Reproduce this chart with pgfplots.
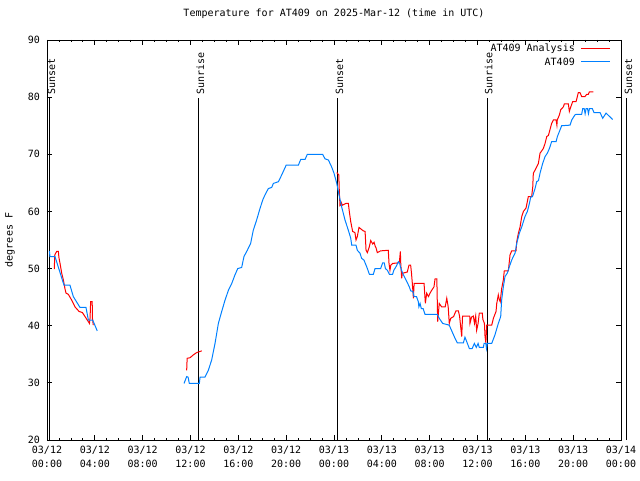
\documentclass[border=0pt]{standalone}
\usepackage{fontspec}
\setmainfont{DejaVu Sans Mono}
\usepackage{pgfplots}
\pgfplotsset{compat=1.18}
\definecolor{webblue}{RGB}{0,128,255}
\definecolor{pured}{RGB}{255,0,0}
\begin{document}
\begin{tikzpicture}
\useasboundingbox (-47pt,-40pt) rectangle (593pt,440pt);
\begin{axis}[
  at={(0,0)}, anchor=south west,
  scale only axis, width=574pt, height=400pt,
  xmin=0, xmax=48, ymin=20, ymax=90,
  clip=false,
  font=\fontsize{10}{14}\selectfont,
  /pgf/number format/assume math mode=true,
  axis line style={line width=0.9pt},
  every tick/.style={black, line width=0.8pt},
  tick align=inside,
  major tick length=5pt, minor tick length=2.5pt,
  xtick={0,4,...,48}, minor x tick num=3,
  ytick={20,30,...,90},
  xticklabels={03/12\\00:00,03/12\\04:00,03/12\\08:00,03/12\\12:00,03/12\\16:00,03/12\\20:00,03/13\\00:00,03/13\\04:00,03/13\\08:00,03/13\\12:00,03/13\\16:00,03/13\\20:00,03/14\\00:00},
  xticklabel style={align=center, anchor=north, inner sep=0pt, yshift=-6pt, font=\fontsize{10}{14}\selectfont},
  yticklabel style={anchor=east, inner sep=0pt, xshift=-7pt},
  title={Temperature for AT409 on 2025-Mar-12 (time in UTC)},
  title style={at={(axis description cs:0.5,1)}, anchor=base, yshift=17pt, inner sep=0pt},
  ylabel={degrees F},
  ylabel style={at={(axis description cs:-0.0645,0.5)}, anchor=center, inner sep=0pt},
]
% legend (key)
\draw[pured, line width=1pt] ([xshift=-40pt,yshift=-9pt]rel axis cs:1,1) -- ([xshift=-11pt,yshift=-9pt]rel axis cs:1,1);
\node[anchor=east, inner sep=0pt] at ([xshift=-46pt,yshift=-9pt]rel axis cs:1,1) {AT409 Analysis};
\draw[webblue, line width=1pt] ([xshift=-40pt,yshift=-22pt]rel axis cs:1,1) -- ([xshift=-11pt,yshift=-22pt]rel axis cs:1,1);
\node[anchor=east, inner sep=0pt] at ([xshift=-46pt,yshift=-22pt]rel axis cs:1,1) {AT409};

% sunrise / sunset lines
\addplot[black, line width=1pt] coordinates {(0.25,20) (0.25,79.8)};
\addplot[black, line width=1pt] coordinates {(12.71,20) (12.71,79.8)};
\addplot[black, line width=1pt] coordinates {(24.33,20) (24.33,79.8)};
\addplot[black, line width=1pt] coordinates {(36.8,20) (36.8,79.8)};
\addplot[black, line width=1pt] coordinates {(48.5,20) (48.5,79.8)};
\node[rotate=90, anchor=west, inner sep=1pt] at ([xshift=1.5pt]axis cs:0.25,80.3) {Sunset};
\node[rotate=90, anchor=west, inner sep=1pt] at ([xshift=1.5pt]axis cs:12.71,80.3) {Sunrise};
\node[rotate=90, anchor=west, inner sep=1pt] at ([xshift=1.5pt]axis cs:24.33,80.3) {Sunset};
\node[rotate=90, anchor=west, inner sep=1pt] at ([xshift=1.5pt]axis cs:36.8,80.3) {Sunrise};
\node[rotate=90, anchor=west, inner sep=1pt] at ([xshift=1.5pt]axis cs:48.5,80.3) {Sunset};

% AT409 Analysis (red)
\addplot[pured, line width=1pt] coordinates {
(0.61,49.9)(0.65,52.4)(0.81,53.0)(0.95,53.0)(1.0,51.9)(1.09,50.9)(1.23,49.2)(1.37,48.0)(1.5,46.5)(1.59,45.7)(1.78,45.5)(2.06,44.5)(2.34,43.3)(2.68,42.5)(2.96,42.3)(3.18,41.6)(3.55,40.4)(3.6,41.3)(3.65,44.2)(3.78,44.2)(3.8,41.3)(3.87,40.1)
};
\addplot[pured, line width=1pt] coordinates {
(11.68,32.2)(11.72,34.3)(11.96,34.4)(12.24,34.9)(12.52,35.3)(12.94,35.6)
};
\addplot[pured, line width=1pt] coordinates {
(24.23,66.8)(24.4,66.4)(24.45,63.2)(24.5,61.0)(24.55,61.1)(24.6,61.6)(24.7,61.1)(25.0,61.4)(25.2,61.4)(25.28,60.0)(25.4,58.2)(25.56,56.5)(25.75,56.3)(25.84,55.0)(25.95,55.6)(26.09,57.2)(26.45,56.6)(26.6,56.5)(26.68,53.2)(26.79,52.8)(26.95,53.8)(27.07,54.9)(27.24,54.3)(27.35,54.6)(27.45,53.9)(27.52,53.6)(27.62,52.8)(27.9,53.1)(28.54,53.2)(28.6,50.9)(28.68,49.7)(28.75,50.6)(28.91,50.9)(29.38,51.0)(29.47,51.2)(29.55,53.0)(29.58,51.0)(29.66,48.3)(29.72,49.3)(29.78,49.2)(30.13,49.4)(30.27,50.6)(30.41,50.6)(30.48,49.2)(30.55,47.4)(30.64,44.8)(30.7,47.4)(30.92,47.4)(31.53,47.4)(31.64,43.9)(31.75,45.7)(31.9,45.1)(32.03,45.7)(32.17,46.2)(32.36,46.8)(32.45,48.2)(32.6,48.2)(32.64,43.9)(32.67,40.7)(32.8,43.9)(33.0,43.3)(33.3,43.3)(33.43,44.8)(33.55,43.3)(33.64,40.4)(33.76,41.3)(34.0,41.6)(34.2,42.6)(34.4,42.6)(34.5,41.7)(34.68,38.1)(34.75,41.7)(35.1,41.7)(35.35,41.7)(35.37,40.4)(35.5,41.5)(35.65,41.7)(35.75,40.4)(35.85,41.7)(35.93,39.2)(36.05,40.4)(36.15,42.2)(36.4,42.2)(36.45,41.1)(36.58,40.4)(36.63,38.1)(36.7,37.0)(36.77,40.1)(37.19,40.1)(37.33,41.3)(37.55,42.5)(37.61,43.9)(37.74,45.4)(37.82,44.6)(37.9,44.2)(38.02,46.5)(38.16,48.0)(38.24,49.6)(38.58,49.6)(38.72,52.4)(38.86,53.1)(39.22,53.1)(39.28,54.7)(39.42,56.2)(39.56,57.3)(39.7,59.1)(39.84,60.0)(40.06,60.6)(40.25,62.6)(40.53,62.6)(40.62,64.3)(40.67,66.7)(40.81,67.2)(40.95,67.8)(41.09,68.4)(41.23,70.2)(41.37,70.6)(41.5,71.0)(41.65,71.9)(41.79,73.1)(41.93,73.3)(42.06,74.3)(42.2,75.4)(42.34,76.0)(42.57,76.0)(42.64,75.1)(42.67,76.0)(42.85,76.9)(42.96,77.8)(43.18,78.3)(43.26,78.8)(43.6,78.8)(43.68,77.5)(43.8,78.3)(43.96,79.2)(44.24,79.2)(44.35,80.1)(44.43,80.8)(44.57,80.8)(44.71,80.1)(44.99,80.1)(45.13,80.5)(45.27,80.5)(45.35,80.9)(45.68,80.9)
};

% AT409 (blue)
\addplot[webblue, line width=1pt] coordinates {
(0.2,53.1)(0.25,52.1)(0.67,52.1)(1.42,47.1)(1.92,47.1)(2.2,45.1)(2.76,43.2)(3.26,43.2)(3.46,41.0)(3.82,41.0)(4.2,39.1)
};
\addplot[webblue, line width=1pt] coordinates {
(11.46,29.9)(11.68,31.1)(11.8,31.0)(11.9,29.9)(12.74,29.9)(12.8,31.0)(13.21,31.0)(13.49,32.2)(13.77,34.0)(14.05,36.9)(14.33,40.4)(14.61,42.5)(14.89,44.5)(15.17,46.2)(15.45,47.4)(15.72,48.9)(15.95,50.0)(16.28,50.2)(16.47,52.1)(16.75,53.2)(17.03,54.4)(17.25,56.7)(17.53,58.5)(17.81,60.5)(18.04,62.0)(18.23,62.9)(18.51,64.0)(18.79,64.2)(18.93,64.9)(19.35,65.2)(19.63,66.4)(20.0,68.1)(21.02,68.1)(21.22,69.1)(21.58,69.1)(21.77,70.0)(23.05,70.0)(23.25,69.2)(23.53,69.0)(23.8,67.8)(24.0,66.7)(24.23,64.9)(24.42,62.9)(24.64,60.8)(24.92,58.5)(25.2,56.7)(25.4,55.3)(25.48,54.1)(25.84,54.1)(25.95,53.2)(26.17,52.7)(26.31,51.8)(26.5,51.5)(26.68,50.6)(26.79,50.0)(26.96,49.0)(27.29,49.0)(27.43,50.0)(27.9,50.0)(28.07,51.0)(28.2,51.0)(28.3,50.0)(28.46,49.7)(28.63,49.0)(28.9,49.0)(29.0,49.7)(29.15,50.2)(29.25,50.6)(29.38,51.2)(29.5,50.9)(29.55,50.3)(29.74,49.2)(30.02,48.0)(30.3,46.8)(30.41,46.1)(30.6,46.0)(30.69,45.1)(30.9,45.1)(31.05,44.2)(31.1,43.3)(31.2,43.9)(31.3,43.0)(31.45,43.0)(31.61,42.0)(32.64,42.0)(32.8,41.3)(33.09,40.4)(33.64,40.1)(33.76,39.5)(33.93,38.7)(34.12,37.8)(34.31,37.0)(34.82,37.0)(34.95,38.0)(35.1,37.2)(35.32,36.0)(35.55,36.0)(35.74,36.9)(35.9,36.2)(36.05,36.9)(36.15,36.2)(36.49,36.2)(36.55,36.9)(36.7,36.9)(36.75,36.0)(36.82,36.9)(37.19,36.9)(37.46,38.4)(37.74,40.4)(37.94,41.6)(38.02,44.5)(38.16,46.8)(38.3,48.6)(38.49,49.2)(38.66,50.3)(38.86,51.5)(39.14,52.7)(39.28,54.4)(39.5,56.2)(39.7,57.3)(39.97,59.1)(40.17,60.0)(40.34,61.4)(40.45,62.5)(40.6,62.6)(40.81,64.0)(40.95,65.2)(41.1,65.4)(41.23,66.7)(41.45,68.4)(41.65,69.6)(41.84,70.2)(42.01,71.0)(42.2,72.2)(42.57,72.2)(42.68,73.1)(42.85,74.0)(43.04,75.0)(43.74,75.1)(43.88,76.0)(44.15,76.9)(44.24,77.0)(44.71,77.0)(44.8,78.0)(44.92,78.0)(45.0,77.1)(45.08,78.0)(45.2,78.0)(45.28,77.1)(45.36,78.0)(45.6,78.0)(45.74,77.3)(46.25,77.3)(46.47,76.3)(46.75,77.2)(47.3,76.1)
};
\end{axis}
\end{tikzpicture}
\end{document}
